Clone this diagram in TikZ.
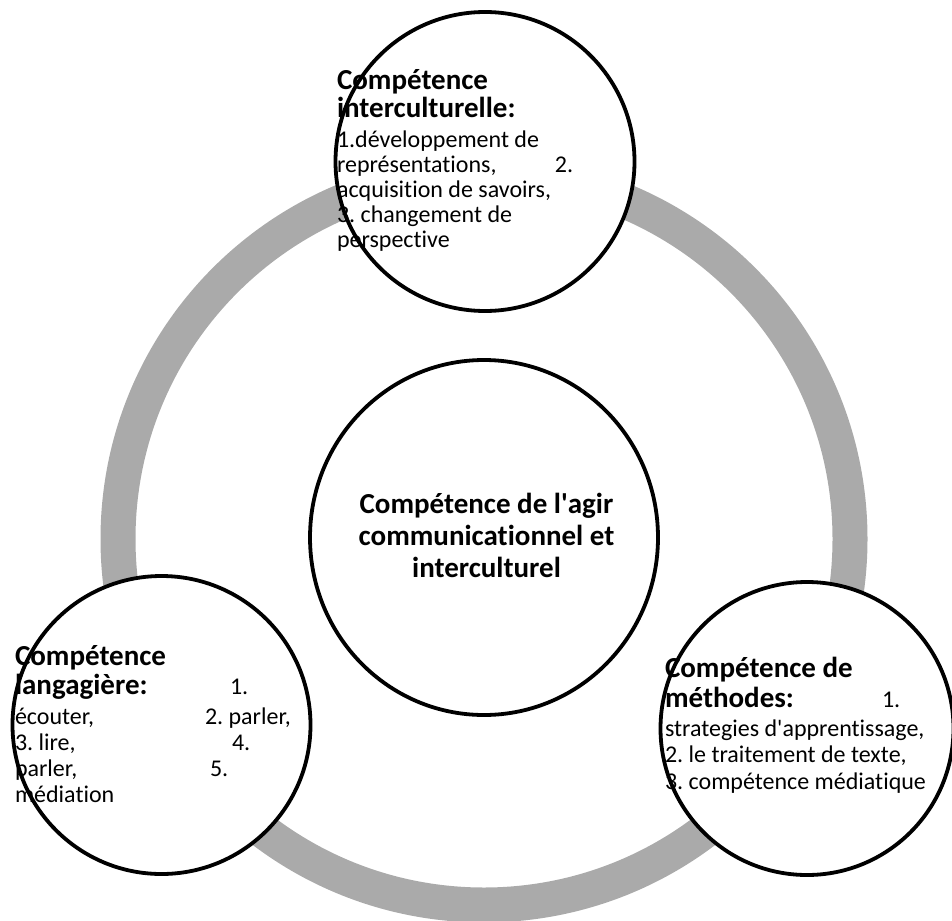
\documentclass[tikz,border=0pt]{standalone}
\usepackage{fontspec}
\setmainfont{Carlito}[Ligatures=NoCommon]
\usetikzlibrary{shapes.geometric}
\definecolor{ringgray}{RGB}{170,170,170}
\newcommand{\headfont}{\fontsize{29}{28}\selectfont\bfseries}
\newcommand{\bodyfont}{\fontsize{24}{30}\selectfont\mdseries}
\newcommand{\tline}[3]{\hbox{\makebox[#2pt][l]{#1}{\bodyfont #3}}}
\newcommand{\midline}[1]{\hbox to 0pt{\hss#1\hss}}
\frenchspacing
\begin{document}
\begin{tikzpicture}[x=1pt,y=-1pt,
  ring/.style={draw=ringgray, line width=35pt},
  bubble/.style={circle, fill=white, inner sep=0pt, outer sep=0pt},
  oval/.style={ellipse, fill=white, inner sep=0pt, outer sep=0pt},
  rim/.style={draw=black, line width=3.8pt},
  textblock/.style={anchor=base west, inner sep=0pt, outer sep=0pt}]
\useasboundingbox (0,0) rectangle (952,920);
% gray ring
\coordinate (ringc) at (484,539);
\draw[ring] (ringc) circle[radius=366];
% white discs
\node[oval, minimum width=348pt, minimum height=355pt] (mid) at (484,537.5) {};
\node[bubble, minimum size=299pt] (top) at (485,161.5) {};
\node[bubble, minimum size=298pt] (left) at (161.5,725) {};
\node[bubble, minimum size=293pt] (right) at (807,728.5) {};
% texts
\node[textblock] (toptext) at (337,90) {\vtop{\headfont
  \hbox{Compétence}
  \hbox{interculturelle:}
  \bodyfont
  \hbox{1.développement de}
  \baselineskip=25pt
  \tline{représentations,}{218}{2.}
  \hbox{acquisition de savoirs,}
  \hbox{3. changement de}
  \hbox{perspective}}};
\node[textblock] (lefttext) at (15,665) {\vtop{\headfont\baselineskip=29pt
  \hbox{Compétence}
  \tline{langagière:}{215}{1.}
  \bodyfont
  \tline{écouter,}{190}{2. parler,}
  \baselineskip=26pt
  \tline{3. lire,}{217}{4.}
  \tline{parler,}{195}{5.}
  \hbox{médiation}}};
\node[textblock] (righttext) at (665,677) {\vtop{\headfont\baselineskip=30pt
  \hbox{Compétence de}
  \tline{méthodes:}{217}{1.}
  \bodyfont\baselineskip=29pt
  \hbox{strategies d\textquotesingle apprentissage,}
  \baselineskip=26.5pt
  \hbox{2. le traitement de texte,}
  \hbox{3. compétence médiatique}}};
\node[textblock] (midtext) at (486,513) {\vtop{\headfont\baselineskip=32pt
  \midline{Compétence de l\textquotesingle agir}
  \midline{communicationnel et}
  \midline{interculturel}}};
% outlines
\draw[rim] (mid.center) ellipse[x radius=174, y radius=177.5];
\draw[rim] (top.center) circle[radius=149.5];
\draw[rim] (left.center) circle[radius=149];
\draw[rim] (right.center) circle[radius=146.5];
\end{tikzpicture}
\end{document}
